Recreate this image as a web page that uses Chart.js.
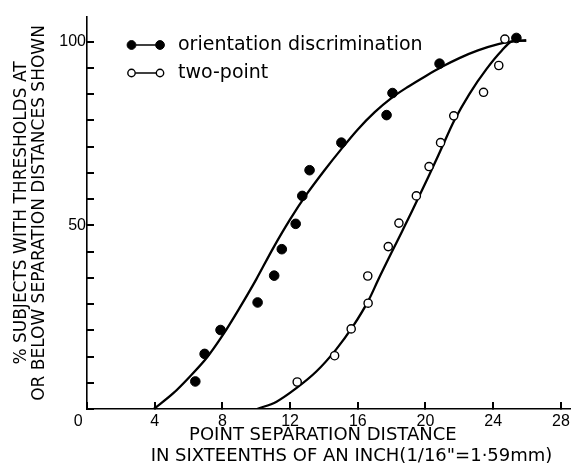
<!DOCTYPE html>
<html>
<head>
<meta charset="utf-8">
<script src="https://cdn.jsdelivr.net/npm/chart.js@4.4.1/dist/chart.umd.min.js"></script>
<style>
html,body{margin:0;padding:0;background:#fff;}
#wrap{width:576px;height:467px;}
</style>
</head>
<body>
<div id="wrap"><canvas id="c" width="576" height="467"></canvas></div>
<script>
// ---- data ----
const seriesLabels = ['orientation discrimination', 'two-point'];

const orientX = [6.40, 6.95, 7.89, 10.08, 11.06, 11.51, 12.33, 12.72, 13.15, 15.03, 17.70, 18.05, 20.83, 25.37];
const orientY = [7.5, 15.0, 21.5, 29.0, 36.3, 43.5, 50.4, 58.0, 65.0, 72.5, 80.0, 86.0, 94.0, 101.0];

const twoPointX = [12.42, 14.63, 15.61, 16.61, 16.59, 17.80, 18.43, 19.46, 20.21, 20.89, 21.67, 23.43, 24.33, 24.69];
const twoPointY = [7.35, 14.5, 21.8, 28.8, 36.2, 44.2, 50.6, 58.0, 66.0, 72.5, 79.8, 86.2, 93.5, 100.7];

const orientCurveX = [3.95, 5.1, 6.07, 7.05, 8.02, 9.0, 10.0, 11.0, 12.0, 13.0, 14.0, 15.0, 16.0, 17.0, 18.0, 19.0, 20.0, 21.0, 22.0, 23.1, 24.3, 25.3, 25.95];
const orientCurveY = [0, 4.3, 8.8, 13.8, 20.1, 27.4, 35.3, 43.8, 51.6, 58.6, 64.8, 70.6, 76.1, 80.8, 84.7, 87.8, 90.6, 93.2, 95.5, 97.6, 99.3, 100.2, 100.3];

const twoPointCurveX = [10.05, 11.2, 12.35, 13.55, 14.7, 15.7, 16.65, 17.2, 18.2, 19.2, 20.2, 21.0, 21.7, 22.6, 23.6, 24.5, 25.1, 25.95];
const twoPointCurveY = [0, 2.0, 5.6, 10.2, 16.1, 22.4, 29.7, 35.1, 44.5, 53.8, 63.5, 71.5, 78.5, 85.8, 92.5, 97.5, 100.0, 100.3];

const xTickValues = [0, 4, 8, 12, 16, 20, 24, 28];
const yTickValues = [0, 7.14, 14.29, 21.43, 28.57, 35.71, 42.86, 50, 57.14, 64.29, 71.43, 78.57, 85.71, 92.86, 100];
const yLabelledValues = [50, 100];

const xTitleLines = ['POINT SEPARATION DISTANCE', 'IN SIXTEENTHS OF AN INCH(1/16"=1·59mm)'];
const yTitleLines = ['% SUBJECTS WITH THRESHOLDS AT', 'OR BELOW SEPARATION DISTANCES SHOWN'];

// ---- helpers ----
const zip = (xs, ys) => xs.map((x, i) => ({x: x, y: ys[i]}));

const insideLegend = {
  id: 'insideLegend',
  afterDraw(chart) {
    const {ctx, chartArea: a} = chart;
    const items = [0, 2];
    ctx.save();
    items.forEach((dsIndex, i) => {
      const ds = chart.data.datasets[dsIndex];
      const cy = a.top + 28 + i * 28;
      const x1 = a.left + 44.5, x2 = a.left + 73;
      const r = ds.legendRadius;
      ctx.strokeStyle = '#000';
      ctx.lineWidth = 1.5;
      ctx.beginPath();
      ctx.moveTo(x1 + r, cy);
      ctx.lineTo(x2 - r, cy);
      ctx.stroke();
      [x1, x2].forEach(cx => {
        ctx.beginPath();
        ctx.arc(cx, cy, r, 0, Math.PI * 2);
        ctx.fillStyle = ds.pointBackgroundColor;
        ctx.fill();
        ctx.lineWidth = ds.pointBorderWidth;
        ctx.strokeStyle = ds.pointBorderColor;
        ctx.stroke();
      });
      ctx.fillStyle = '#000';
      ctx.font = '19px "DejaVu Sans"';
      ctx.textBaseline = 'alphabetic';
      ctx.textAlign = 'left';
      ctx.fillText(ds.label, a.left + 91, cy + 5);
    });
    ctx.restore();
  }
};

const inwardGrid = {
  display: true,
  drawOnChartArea: false,
  drawTicks: true,
  tickLength: -7,
  color: '#000',
  tickColor: '#000',
  lineWidth: 2,
  tickWidth: 2
};

new Chart(document.getElementById('c'), {
  type: 'scatter',
  data: {
    datasets: [
      {
        label: seriesLabels[0],
        data: zip(orientX, orientY),
        pointRadius: 4.8,
        pointBackgroundColor: '#000',
        pointBorderColor: '#000',
        pointBorderWidth: 1,
        legendRadius: 4.4,
        showLine: false,
        order: 0
      },
      {
        label: seriesLabels[0] + ' (fit)',
        data: zip(orientCurveX, orientCurveY),
        showLine: true,
        pointRadius: 0,
        borderColor: '#000',
        borderWidth: 2.3,
        cubicInterpolationMode: 'monotone',
        order: 1
      },
      {
        label: seriesLabels[1],
        data: zip(twoPointX, twoPointY),
        pointRadius: 4.1,
        pointBackgroundColor: '#fff',
        pointBorderColor: '#000',
        pointBorderWidth: 1.4,
        legendRadius: 3.7,
        showLine: false,
        order: 0
      },
      {
        label: seriesLabels[1] + ' (fit)',
        data: zip(twoPointCurveX, twoPointCurveY),
        showLine: true,
        pointRadius: 0,
        borderColor: '#000',
        borderWidth: 2.3,
        cubicInterpolationMode: 'monotone',
        order: 1
      }
    ]
  },
  options: {
    responsive: false,
    animation: false,
    devicePixelRatio: 1,
    layout: {padding: {top: 17, right: 3, left: 0, bottom: 0}},
    plugins: {
      legend: {display: false},
      tooltip: {enabled: false}
    },
    scales: {
      x: {
        type: 'linear',
        min: 0,
        max: 28.55,
        afterFit: s => { s.height = 58; s.paddingLeft = 0; s.paddingRight = 0; },
        afterBuildTicks: s => { s.ticks = xTickValues.map(v => ({value: v})); },
        grid: inwardGrid,
        border: {display: true, color: '#000', width: 1.6},
        ticks: {
          color: '#000',
          padding: 10,
          maxRotation: 0,
          autoSkip: false,
          font: {family: 'Liberation Sans', size: 16},
          callback: v => (v === 0 ? '0    ' : String(v))
        },
        title: {
          display: true,
          text: [xTitleLines[0] + '  ', '        ' + xTitleLines[1]],
          color: '#000',
          font: {family: 'DejaVu Sans', size: 18, lineHeight: 1.18},
          padding: {top: 0, bottom: 0}
        }
      },
      y: {
        type: 'linear',
        min: 0,
        max: 106.7,
        afterFit: s => { s.width = 87; s.paddingTop = 0; s.paddingBottom = 0; },
        afterBuildTicks: s => { s.ticks = yTickValues.map(v => ({value: v})); },
        grid: inwardGrid,
        border: {display: true, color: '#000', width: 1.6},
        ticks: {
          color: '#000',
          padding: 8,
          autoSkip: false,
          font: {family: 'Liberation Sans', size: 16},
          callback: v => (yLabelledValues.includes(v) ? String(v) : '')
        },
        title: {
          display: true,
          text: yTitleLines,
          color: '#000',
          font: {family: 'DejaVu Sans', size: 17, lineHeight: 1.1},
          padding: {top: 12, bottom: 0}
        }
      }
    }
  },
  plugins: [insideLegend]
});
</script>
</body>
</html>
